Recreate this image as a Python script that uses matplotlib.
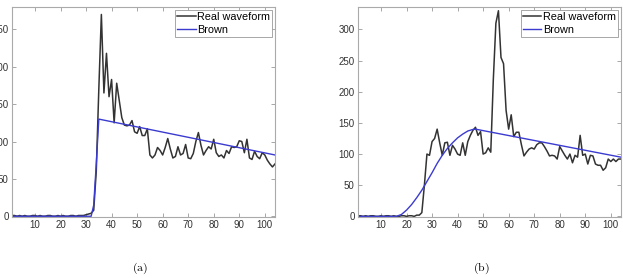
import matplotlib.pyplot as plt
import numpy as np

# panel (a) waveform
x_a = np.arange(1, 105)
real_a = [1, 1, 0, 1, 0, 1, 0, 0, 1, 1, 0, 1, 0, 0, 1, 1, 0, 0, 1, 0,
          1, 0, 0, 1, 1, 0, 1, 1, 1, 2, 3, 4, 8, 60, 170, 270, 165, 218, 160, 183,
          125, 178, 155, 132, 122, 121, 122, 128, 113, 111, 120, 108, 108, 117, 82, 78, 82, 92, 88, 82,
          92, 104, 90, 78, 80, 93, 82, 84, 96, 78, 77, 84, 100, 112, 95, 82, 88, 93, 90, 103,
          85, 80, 82, 78, 88, 84, 93, 92, 93, 101, 100, 85, 103, 78, 76, 87, 80, 77, 85, 82,
          75, 70, 66, 70]
brown_a_x = [1, 32, 33, 34, 35, 104]
brown_a = [0, 0, 15, 70, 130, 82]

# panel (b) waveform
x_b = np.arange(1, 105)
real_b = [1, 1, 0, 1, 0, 1, 1, 0, 0, 1, 0, 1, 1, 0, 1, 0, 0, 1, 1, 0,
          1, 1, 0, 2, 2, 6, 50, 100, 98, 120, 125, 140, 118, 98, 118, 119, 98, 114, 108, 100,
          98, 118, 98, 120, 130, 138, 143, 130, 136, 100, 102, 110, 103, 220, 310, 330, 255, 245, 170, 140,
          163, 128, 135, 135, 115, 97, 103, 108, 110, 108, 115, 118, 118, 112, 105, 97, 98, 97, 92, 112,
          105, 98, 92, 100, 86, 98, 95, 130, 98, 100, 84, 98, 97, 84, 82, 82, 74, 78, 92, 88,
          92, 88, 92, 92]
brown_b_x = [1, 16, 18, 20, 22, 24, 26, 28, 30, 32, 34, 36, 38, 40, 42, 44, 46, 47, 104]
brown_b = [0, 0, 3, 10, 19, 30, 42, 56, 70, 85, 98, 109, 118, 126, 132, 137, 139.5, 140, 95]

plt.rcParams['font.family'] = ['Liberation Sans', 'DejaVu Sans']
plt.rcParams['mathtext.fontset'] = 'cm'

fig = plt.figure(figsize=(6.23, 2.78), dpi=100)
ax1 = fig.add_axes([12/623, 1-217/278, 263/623, 210/278])
ax2 = fig.add_axes([358/623, 1-217/278, 263/623, 210/278])

panels = [(ax1, x_a, real_a, brown_a_x, brown_a, (-1, 280), [0, 50, 100, 150, 200, 250]),
          (ax2, x_b, real_b, brown_b_x, brown_b, (-1, 336), [0, 50, 100, 150, 200, 250, 300])]

for ax, x, real, bx, brown, ylim, yt in panels:
    ax.plot(x, real, color='#333333', lw=1.1, label='Real waveform')
    ax.plot(bx, brown, color='#3b3bd0', lw=1.0, label='Brown')
    ax.set_xlim(1, 104)
    ax.set_ylim(*ylim)
    ax.set_xticks(range(10, 101, 10))
    ax.set_yticks(yt)
    ax.tick_params(direction='in', length=3, width=0.6, color='#999999',
                   labelsize=7, labelcolor='#333333', pad=2.5, top=True, right=True)
    for s in ax.spines.values():
        s.set_color('#aaaaaa')
        s.set_linewidth(0.8)
    leg = ax.legend(loc='upper right', fontsize=7.8, handlelength=1.7, handletextpad=0.15,
                    borderpad=0.2, labelspacing=0.25, borderaxespad=0.25,
                    fancybox=False, framealpha=1)
    leg.get_frame().set_edgecolor('#999999')
    leg.get_frame().set_linewidth(0.6)

fig.text(140/623, 1-268/278, r'$\mathrm{(a)}$', ha='center', va='center', fontsize=8.5)
fig.text(481/623, 1-268/278, r'$\mathrm{(b)}$', ha='center', va='center', fontsize=8.5)

plt.savefig('out.png', dpi=100)
